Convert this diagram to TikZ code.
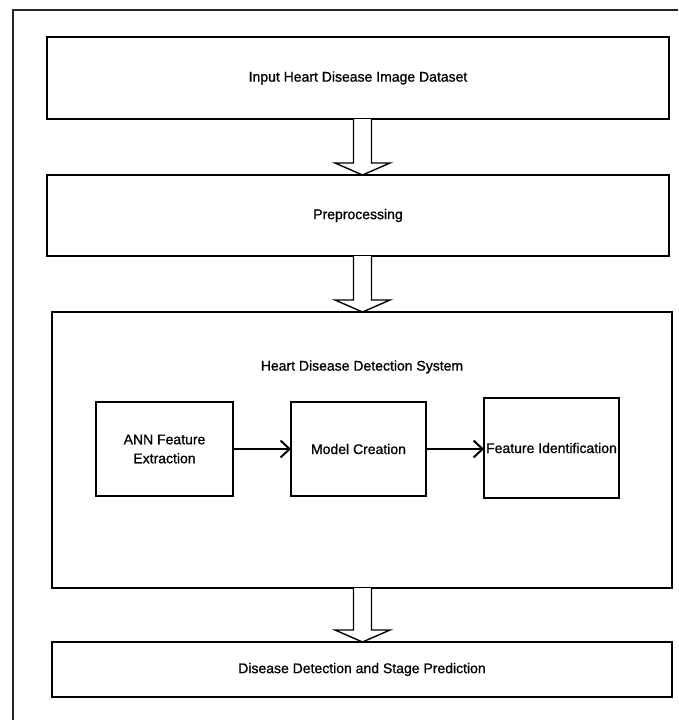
\documentclass[tikz,border=0pt]{standalone}
\usepackage{fontspec}
\setmainfont{Liberation Sans}[FakeBold=0.9]
\usetikzlibrary{calc,arrows.meta}
\tikzset{
  box/.style={draw=black, line width=2pt, rectangle, outer sep=0pt, inner sep=0pt,
    font=\fontsize{14}{19}\selectfont, align=center},
  blk/.style={draw=black, line width=1.4pt, fill=white, line join=miter},
  flow/.style={draw=black, line width=2pt, -{Straight Barb[length=9pt,width=17pt,line width=2pt]}},
  lbl/.style={font=\fontsize{14}{19}\selectfont, inner sep=0pt}
}
\newcommand{\blockarr}[2]{%
  \draw[blk] ($(#1.south -| axis)+(-9,0)$) -- ($(#2.north -| axis)+(-9,-12)$)
    -- ($(#2.north -| axis)+(-27.5,-12)$) -- (#2.north -| axis)
    -- ($(#2.north -| axis)+(27.5,-12)$) -- ($(#2.north -| axis)+(9,-12)$)
    -- ($(#1.south -| axis)+(9,0)$);}
\begin{document}
\begin{tikzpicture}[x=1pt,y=-1pt]
\useasboundingbox[fill=white] (0,0) rectangle (678,720);
\draw[line width=1.5pt, draw=black!85] (13,720) -- (13,10) -- (678,10);
\coordinate (axis) at (362.5,0);
\node[box, minimum width=622pt, minimum height=82pt] (b1) at (358,78) {Input Heart Disease Image Dataset};
\node[box, minimum width=622pt, minimum height=81pt] (b2) at (358,215.5) {Preprocessing};
\node[box, minimum width=620pt, minimum height=276pt] (big) at (362,450) {};
\node[lbl] (title) at (362,367) {Heart Disease Detection System};
\node[box, minimum width=137pt, minimum height=94pt] (ann) at (164.5,449) {ANN Feature\\Extraction};
\node[box, minimum width=135pt, minimum height=94pt] (model) at (358.5,449) {Model Creation};
\node[box, minimum width=135pt, minimum height=100pt] (feat) at (551.5,448) {Feature Identification};
\node[box, minimum width=620pt, minimum height=55pt] (final) at (362,669.5) {Disease Detection and Stage Prediction};
\blockarr{b1}{b2}
\blockarr{b2}{big}
\blockarr{big}{final}
\draw[flow] (ann.east) -- (model.west |- ann.east);
\draw[flow] (model.east) -- (feat.west |- model.east);
\end{tikzpicture}
\end{document}
